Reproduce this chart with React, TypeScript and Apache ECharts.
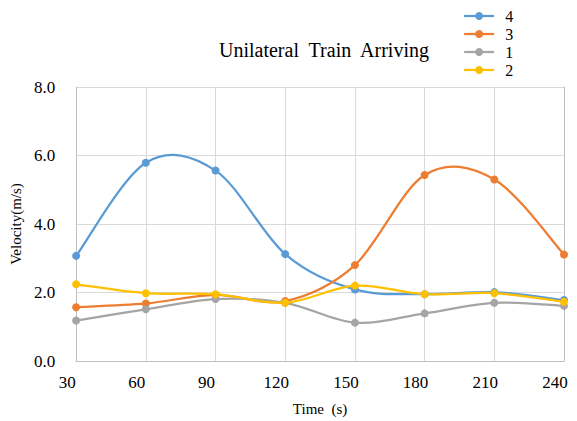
import React, { useEffect, useRef } from "react";
import * as echarts from "echarts";

const times = [30, 60, 90, 120, 150, 180, 210, 240];
const train4 = [3.07, 5.79, 5.56, 3.12, 2.09, 1.95, 2.01, 1.78];
const train3 = [1.57, 1.68, 1.93, 1.75, 2.8, 5.43, 5.3, 3.11];
const train1 = [1.18, 1.51, 1.81, 1.7, 1.12, 1.39, 1.7, 1.61];
const train2 = [2.24, 1.98, 1.95, 1.7, 2.2, 1.95, 1.98, 1.73];

const seriesNames = ["4", "3", "1", "2"];
const seriesValues = [train4, train3, train1, train2];
const colors = ["#5B9BD5", "#ED7D31", "#A5A5A5", "#FFC000"];

const serif = "Liberation Serif";

// Cardinal-spline curve (tension 1/6) through the points, one bezier per segment,
// positioned through the chart's own coordinate system.
function curveSeries(values: number[], color: string) {
  return {
    type: "custom",
    name: "curve",
    silent: true,
    data: times.slice(0, -1).map((t, i) => [t, values[i]]),
    renderItem: (params: any, api: any) => {
      const i = params.dataIndex;
      const n = times.length;
      const pt = (k: number) => {
        const c = Math.max(0, Math.min(n - 1, k));
        return api.coord([times[c], values[c]]);
      };
      const p0 = pt(i - 1);
      const p1 = pt(i);
      const p2 = pt(i + 1);
      const p3 = pt(i + 2);
      const f = 1 / 6;
      return {
        type: "bezierCurve",
        shape: {
          x1: p1[0],
          y1: p1[1],
          cpx1: p1[0] + (p2[0] - p0[0]) * f,
          cpy1: p1[1] + (p2[1] - p0[1]) * f,
          cpx2: p2[0] - (p3[0] - p1[0]) * f,
          cpy2: p2[1] - (p3[1] - p1[1]) * f,
          x2: p2[0],
          y2: p2[1],
        },
        style: { stroke: color, lineWidth: 2.25, fill: "none" },
      };
    },
  };
}

export default function App() {
  const ref = useRef<HTMLDivElement>(null);

  useEffect(() => {
    if (!ref.current) return;
    const chart = echarts.init(ref.current, undefined, { renderer: "svg" });
    const series: any[] = [];
    seriesNames.forEach((name, i) => {
      series.push(curveSeries(seriesValues[i], colors[i]));
      series.push({
        name,
        type: "line",
        symbol: "circle",
        symbolSize: 8,
        data: times.map((t, j) => [t, seriesValues[i][j]]),
        lineStyle: { width: 0, opacity: 0, color: colors[i] },
        itemStyle: { color: colors[i] },
      });
    });
    chart.setOption({
      animation: false,
      backgroundColor: "#ffffff",
      color: colors,
      textStyle: { fontFamily: serif },
      title: {
        text: "Unilateral  Train  Arriving",
        left: 214,
        top: 35,
        textStyle: { fontFamily: serif, fontSize: 20, fontWeight: "normal", color: "#000" },
      },
      legend: {
        orient: "vertical",
        left: 458,
        top: 3,
        itemWidth: 30,
        itemHeight: 10,
        itemGap: 2,
        data: seriesNames,
        lineStyle: { width: 2.25, opacity: 1 },
        textStyle: { fontFamily: serif, fontSize: 16, color: "#000", lineHeight: 16, padding: [0, 0, 0, 6] },
      },
      grid: { left: 76, right: 13, top: 87, bottom: 60 },
      xAxis: {
        type: "value",
        min: 30,
        max: 240,
        interval: 30,
        name: "Time  (s)",
        nameLocation: "middle",
        nameGap: 40,
        nameTextStyle: { fontFamily: serif, fontSize: 15, color: "#000" },
        axisLine: { show: true, lineStyle: { color: "#BFBFBF", width: 1 } },
        axisTick: { show: false },
        splitLine: { show: true, lineStyle: { color: "#D9D9D9", width: 1 } },
        axisLabel: { fontFamily: serif, fontSize: 17, color: "#000", margin: 13, padding: [0, 18, 0, 0] },
      },
      yAxis: [
        {
          type: "value",
          min: 0,
          max: 8,
          interval: 2,
          name: "Velocity(m/s)",
          nameLocation: "middle",
          nameGap: 49,
          nameTextStyle: { fontFamily: serif, fontSize: 15, color: "#000" },
          axisLine: { show: true, lineStyle: { color: "#BFBFBF", width: 1 } },
          axisTick: { show: false },
          splitLine: { show: true, lineStyle: { color: "#D9D9D9", width: 1 } },
          axisLabel: {
            fontFamily: serif,
            fontSize: 17,
            color: "#000",
            margin: 21,
            formatter: (v: number) => v.toFixed(1),
          },
        },
        {
          type: "value",
          position: "right",
          min: 0,
          max: 8,
          interval: 2,
          axisLine: { show: true, lineStyle: { color: "#BFBFBF", width: 1 } },
          axisTick: { show: false },
          axisLabel: { show: false },
          splitLine: { show: false },
        },
      ],
      series,
    });
    return () => chart.dispose();
  }, []);

  return <div ref={ref} style={{ width: 577, height: 421, position: "absolute", left: 0, top: 0 }} />;
}
